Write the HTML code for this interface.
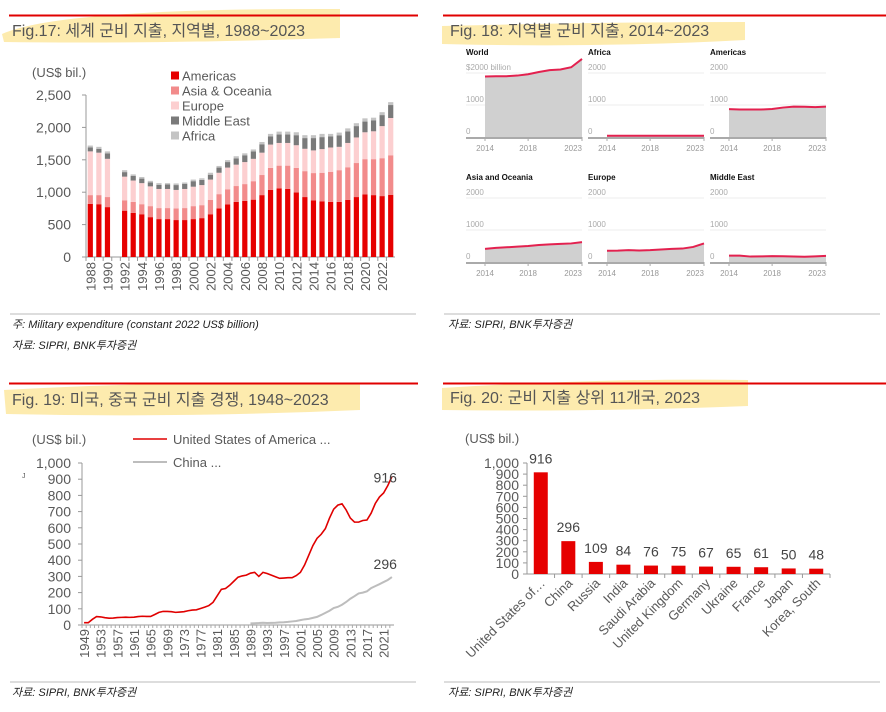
<!DOCTYPE html>
<html><head><meta charset="utf-8"><style>
html,body{margin:0;padding:0;background:#fff;}
svg{display:block;font-family:"Liberation Sans","Noto Sans CJK KR",sans-serif;}
</style></head><body>
<svg id="s" width="886" height="712" viewBox="0 0 886 712" xmlns="http://www.w3.org/2000/svg">
<g>
<path d="M2 34 Q60 8 340 9 L340 38 Q150 44 4 42 Z" fill="#fde7a0" opacity="0.85"/>
<path d="M442 26 Q600 22 745 22 L745 40 Q600 48 442 44 Z" fill="#fde7a0" opacity="0.85"/>
<path d="M4 390 Q180 380 360 384 L360 410 Q180 418 6 414 Z" fill="#fde7a0" opacity="0.85"/>
<path d="M442 388 Q600 378 748 380 L748 406 Q600 412 442 410 Z" fill="#fde7a0" opacity="0.85"/>
<line x1="9" y1="15.5" x2="418" y2="15.5" stroke="#e00000" stroke-width="2"/>
<line x1="443" y1="15.5" x2="886" y2="15.5" stroke="#e00000" stroke-width="2"/>
<line x1="9" y1="383.5" x2="418" y2="383.5" stroke="#e00000" stroke-width="2"/>
<line x1="443" y1="383.5" x2="886" y2="383.5" stroke="#e00000" stroke-width="2"/>
<text x="12" y="36" font-size="16" fill="#555">Fig.17: 세계 군비 지출, 지역별, 1988~2023</text>
<text x="450" y="36" font-size="16" fill="#555">Fig. 18: 지역별 군비 지출, 2014~2023</text>
<text x="12" y="405" font-size="16" fill="#555">Fig. 19: 미국, 중국 군비 지출 경쟁, 1948~2023</text>
<text x="450" y="403" font-size="16" fill="#555">Fig. 20: 군비 지출 상위 11개국, 2023</text>
</g>
<g font-size="11" font-style="italic" fill="#222">
<line x1="10" y1="314" x2="416" y2="314" stroke="#bbb" stroke-width="1"/>
<line x1="444" y1="314" x2="880" y2="314" stroke="#bbb" stroke-width="1"/>
<line x1="10" y1="682" x2="416" y2="682" stroke="#bbb" stroke-width="1"/>
<line x1="444" y1="682" x2="880" y2="682" stroke="#bbb" stroke-width="1"/>
<text x="12" y="328">주: Military expenditure (constant 2022 US$ billion)</text>
<text x="12" y="349">자료: SIPRI, BNK투자증권</text>
<text x="448" y="328">자료: SIPRI, BNK투자증권</text>
<text x="12" y="696">자료: SIPRI, BNK투자증권</text>
<text x="448" y="696">자료: SIPRI, BNK투자증권</text>
</g>
</svg>
<script>
// ---------- Fig 17 data (cumulative stack tops, US$ bil.) ----------
const years17 = [1988,1989,1990,1991,1992,1993,1994,1995,1996,1997,1998,1999,2000,2001,2002,2003,2004,2005,2006,2007,2008,2009,2010,2011,2012,2013,2014,2015,2016,2017,2018,2019,2020,2021,2022,2023];
const americasTop = [820,815,770,null,715,680,660,615,585,585,570,570,585,600,660,750,810,850,865,885,955,1035,1060,1050,995,925,875,860,850,850,880,925,965,955,940,960];
const asiaTop = [955,955,925,null,875,850,815,785,755,755,750,755,785,800,880,970,1045,1095,1125,1170,1265,1375,1410,1410,1375,1325,1295,1300,1315,1340,1385,1450,1510,1510,1525,1570];
const europeTop = [1630,1610,1515,null,1240,1180,1140,1090,1050,1050,1035,1050,1085,1110,1195,1300,1380,1425,1465,1515,1610,1735,1760,1760,1725,1670,1645,1665,1690,1700,1760,1845,1925,1940,2020,2145];
const middleEastTop = [1690,1670,1600,null,1310,1250,1210,1150,1115,1120,1110,1130,1170,1190,1270,1380,1465,1520,1570,1630,1740,1860,1890,1890,1880,1835,1835,1850,1860,1875,1940,2020,2090,2110,2190,2345];
const africaTop = [1720,1700,1630,null,1340,1275,1235,1175,1140,1140,1135,1150,1195,1215,1300,1405,1495,1555,1600,1660,1775,1900,1935,1935,1925,1880,1880,1900,1900,1920,1985,2065,2140,2150,2235,2390];
const ticks17 = [0,500,1000,1500,2000,2500];
const tickLabels17 = ["0","500","1,000","1,500","2,000","2,500"];
const legend17 = ["Americas","Asia & Oceania","Europe","Middle East","Africa"];

// ---------- Fig 18 data ----------
const years18 = [2014,2015,2016,2017,2018,2019,2020,2021,2022,2023];
const panels18 = ["World","Africa","Americas","Asia and Oceania","Europe","Middle East"];
const world18 = [1890,1900,1900,1920,1960,2030,2090,2110,2180,2440];
const africa18 = [40,40,40,40,40,40,40,40,40,40];
const americas18 = [870,860,860,860,875,920,950,945,935,950];
const asia18 = [410,440,460,480,500,530,550,565,580,620];
const europe18 = [350,355,370,360,370,390,410,420,470,580];
const mideast18 = [200,200,170,175,185,180,170,165,175,190];
const ticks18 = [0,1000,2000];
const xTicks18 = [2014,2018,2023];

// ---------- Fig 19 data ----------
const years19Start = 1949;
const usa19 = [14,14,35,52,50,45,42,43,46,47,48,47,48,52,54,53,53,65,78,84,84,82,78,80,82,88,92,94,102,110,120,140,180,220,225,245,270,295,303,308,320,325,300,325,318,308,298,288,290,292,292,305,325,370,430,490,535,560,595,660,715,740,748,710,660,635,635,645,648,690,750,790,815,860,916];
const china19Start = 1989;
const china19 = [10,11,12,14,12,13,14,16,17,19,22,25,30,35,38,44,50,62,75,88,105,112,125,142,162,178,195,200,208,228,240,252,265,278,296];
const ticks19 = [0,100,200,300,400,500,600,700,800,900,1000];
const tickLabels19 = ["0","100","200","300","400","500","600","700","800","900","1,000"];

// ---------- Fig 20 data ----------
const countries20 = ["United States of…","China","Russia","India","Saudi Arabia","United Kingdom","Germany","Ukraine","France","Japan","Korea, South"];
const values20 = [916,296,109,84,76,75,67,65,61,50,48];
const ticks20 = [0,100,200,300,400,500,600,700,800,900,1000];
const tickLabels20 = ["0","100","200","300","400","500","600","700","800","900","1,000"];

const NS="http://www.w3.org/2000/svg";
const svg=document.getElementById('s');
function mk(tag,attrs,parent,txt){const e=document.createElementNS(NS,tag);for(const k in attrs)e.setAttribute(k,attrs[k]);if(txt!=null)e.textContent=txt;(parent||svg).appendChild(e);return e;}
const TXT='#595959';

// ===== Fig 17 =====
(function(){
const g=mk('g',{});


const x0=86,x1=395,y0=257,ymax=2500,h=162;
const y=v=>y0-v/ymax*h;
const slot=(x1-x0)/years17.length;
const xc=i=>x0+slot*(i+0.5);
const lab=mk('text',{x:32,y:77,'font-size':13,fill:TXT},g,'(US$ bil.)');


ticks17.forEach((t,i)=>{const e=mk('text',{x:71,y:y(t)+5,'font-size':14,fill:TXT,'text-anchor':'end'},g,tickLabels17[i]);


mk('line',{x1:x0-4,x2:x0,y1:y(t),y2:y(t),stroke:'#999'},g);});
mk('line',{x1:x0,x2:x0,y1:y0,y2:y(ymax),stroke:'#999'},g);
mk('line',{x1:x0,x2:x1,y1:y0,y2:y0,stroke:'#999'},g);
const series=[americasTop,asiaTop,europeTop,middleEastTop,africaTop];
const cols=['#e60000','#f28b8b','#fccfd0','#7a7a7a','#c4c4c4'];
const names=['bar-americas','bar-asia-oceania','bar-europe','bar-middle-east','bar-africa'];
years17.forEach((yr,i)=>{
 mk('line',{x1:x0+slot*i,x2:x0+slot*i,y1:y0,y2:y0+4,stroke:'#999'},g);
 let prev=0;
 series.forEach((s,k)=>{ if(s[i]==null) return; const r=mk('rect',{x:xc(i)-2.6,width:5.2,y:y(s[i]),height:Math.max(0,y(prev)-y(s[i])),fill:cols[k]},g);
 
 
 prev=s[i];});
 if(i%2===0){const t=mk('text',{transform:`translate(${xc(i)+5},262) rotate(-90)`,'font-size':13,fill:TXT,'text-anchor':'end'},g,yr);
 
 }
});
legend17.forEach((n,k)=>{const yy=76+k*15;
 const r=mk('rect',{x:171,y:yy-4.5,width:8,height:8,fill:cols[k]},g);
 
 
 const t=mk('text',{x:182,y:yy+4.5,'font-size':13,fill:TXT},g,n);
 
 });
})();

// ===== Fig 18 =====
(function(){
const data=[world18,africa18,americas18,asia18,europe18,mideast18];
const colsX=[485,607,729], rowsY=[137,262], titlesY=[55,180];
data.forEach((d,p)=>{
 const c=p%3,r=Math.floor(p/3);
 const px0=colsX[c],px1=px0+97,py0=rowsY[r],scale=64/2000;
 const g=mk('g',{});
 
 
 const y=v=>py0-v*scale;
 const x=yr=>px0+(yr-2014)/(2023-2014)*(px1-px0);
 const t=mk('text',{x:px0-19,y:titlesY[r],'font-size':8,'font-weight':'bold',fill:'#111'},g,panels18[p]);
 
 
 ticks18.forEach(tv=>{
  if(tv>0) mk('line',{x1:px0-19,x2:px1,y1:y(tv),y2:y(tv),stroke:'#eee'},g);
  const lbl=(p===0&&tv===2000)?'$2000 billion':String(tv);
  const e=mk('text',{x:px0-19,y:y(tv)-3,'font-size':8,fill:'#aaa'},g,lbl);
  
  
 });
 let dA=`M${x(2014)},${py0}`; years18.forEach((yr,i)=>dA+=` L${x(yr)},${y(d[i])}`); dA+=` L${x(2023)},${py0} Z`;
 const a=mk('path',{d:dA,fill:'#d0d0d0'},g);
 
 
 let dL=''; years18.forEach((yr,i)=>dL+=(i?' L':'M')+x(yr)+','+y(d[i]));
 const l=mk('path',{d:dL,fill:'none',stroke:'#e3214f','stroke-width':2},g);
 
 
 mk('line',{x1:px0-19,x2:px1,y1:py0+1,y2:py0+1,stroke:'#aaa','stroke-width':2},g);
 xTicks18.forEach(yr=>{mk('line',{x1:x(yr),x2:x(yr),y1:py0,y2:py0+4,stroke:'#aaa'},g);
  const e=mk('text',{x:x(yr),y:py0+14,'font-size':8,fill:'#999','text-anchor':yr===2023?'end':'middle'},g,yr);
  
  });
});
})();

// ===== Fig 19 =====
(function(){
const g=mk('g',{});


const x0=82,x1=394,y0=625,h=162;
const y=v=>y0-v/1000*h;
const nYears=usa19.length;
const slot=(x1-x0)/nYears;
const x=yr=>x0+slot*(yr-years19Start+0.5);
const u=mk('text',{x:32,y:444,'font-size':13,fill:TXT},g,'(US$ bil.)');


mk('text',{x:22,y:478,'font-size':7,fill:TXT},g,'J');
ticks19.forEach((t,i)=>{const e=mk('text',{x:71,y:y(t)+5,'font-size':14,fill:TXT,'text-anchor':'end'},g,tickLabels19[i]);
 
 
 mk('line',{x1:x0-4,x2:x0,y1:y(t),y2:y(t),stroke:'#999'},g);});
mk('line',{x1:x0,x2:x0,y1:y0,y2:y(1000),stroke:'#999'},g);
mk('line',{x1:x0,x2:x1,y1:y0,y2:y0,stroke:'#999'},g);
for(let i=0;i<nYears;i++){const yr=years19Start+i;
 mk('line',{x1:x0+slot*i,x2:x0+slot*i,y1:y0,y2:y0+3,stroke:'#aaa'},g);
 if(i%4===0){const t=mk('text',{transform:`translate(${x(yr)+5},629) rotate(-90)`,'font-size':13,fill:TXT,'text-anchor':'end'},g,yr);
 
 }}
let dc=''; china19.forEach((v,i)=>dc+=(i?' L':'M')+x(china19Start+i)+','+y(v));
const cl=mk('path',{d:dc,fill:'none',stroke:'#bdbdbd','stroke-width':2},g);


let du=''; usa19.forEach((v,i)=>du+=(i?' L':'M')+x(years19Start+i)+','+y(v));
const ul=mk('path',{d:du,fill:'none',stroke:'#e00000','stroke-width':1.6},g);


const l1=mk('text',{x:x(2023)+5,y:y(usa19[nYears-1])+6,'font-size':14,fill:'#444','text-anchor':'end'},g,usa19[nYears-1]);


const l2=mk('text',{x:x(2023)+5,y:y(china19[china19.length-1])-8,'font-size':14,fill:'#444','text-anchor':'end'},g,china19[china19.length-1]);


mk('line',{x1:133,x2:167,y1:439,y2:439,stroke:'#e00000','stroke-width':1.6},g);
const le1=mk('text',{x:173,y:444,'font-size':13,fill:TXT},g,'United States of America  ...');


mk('line',{x1:133,x2:167,y1:462,y2:462,stroke:'#bdbdbd','stroke-width':2},g);
const le2=mk('text',{x:173,y:467,'font-size':13,fill:TXT},g,'China  ...');


})();

// ===== Fig 20 =====
(function(){
const g=mk('g',{});


const x0=527,x1=830,y0=574,h=111;
const y=v=>y0-v/1000*h;
const slot=(x1-x0)/countries20.length;
const xc=i=>x0+slot*(i+0.5);
const u=mk('text',{x:465,y:443,'font-size':13,fill:TXT},g,'(US$ bil.)');


ticks20.forEach((t,i)=>{const e=mk('text',{x:519,y:y(t)+5,'font-size':14,fill:TXT,'text-anchor':'end'},g,tickLabels20[i]);
 
 
 mk('line',{x1:x0-4,x2:x0,y1:y(t),y2:y(t),stroke:'#999'},g);});
mk('line',{x1:x0,x2:x0,y1:y0,y2:y(1000),stroke:'#999'},g);
mk('line',{x1:x0,x2:x1,y1:y0,y2:y0,stroke:'#999'},g);
countries20.forEach((c,i)=>{
 mk('line',{x1:x0+slot*(i+1),x2:x0+slot*(i+1),y1:y0,y2:y0+4,stroke:'#999'},g);
 const r=mk('rect',{x:xc(i)-7,width:14,y:y(values20[i]),height:y0-y(values20[i]),fill:'#e60000'},g);
 
 
 const v=mk('text',{x:xc(i),y:y(values20[i])-9,'font-size':14,fill:'#444','text-anchor':'middle'},g,values20[i]);
 
 
 const t=mk('text',{transform:`translate(${xc(i)+5},584) rotate(-45)`,'font-size':13,fill:TXT,'text-anchor':'end'},g,c);
 
 
});
})();
</script>
</body></html>
